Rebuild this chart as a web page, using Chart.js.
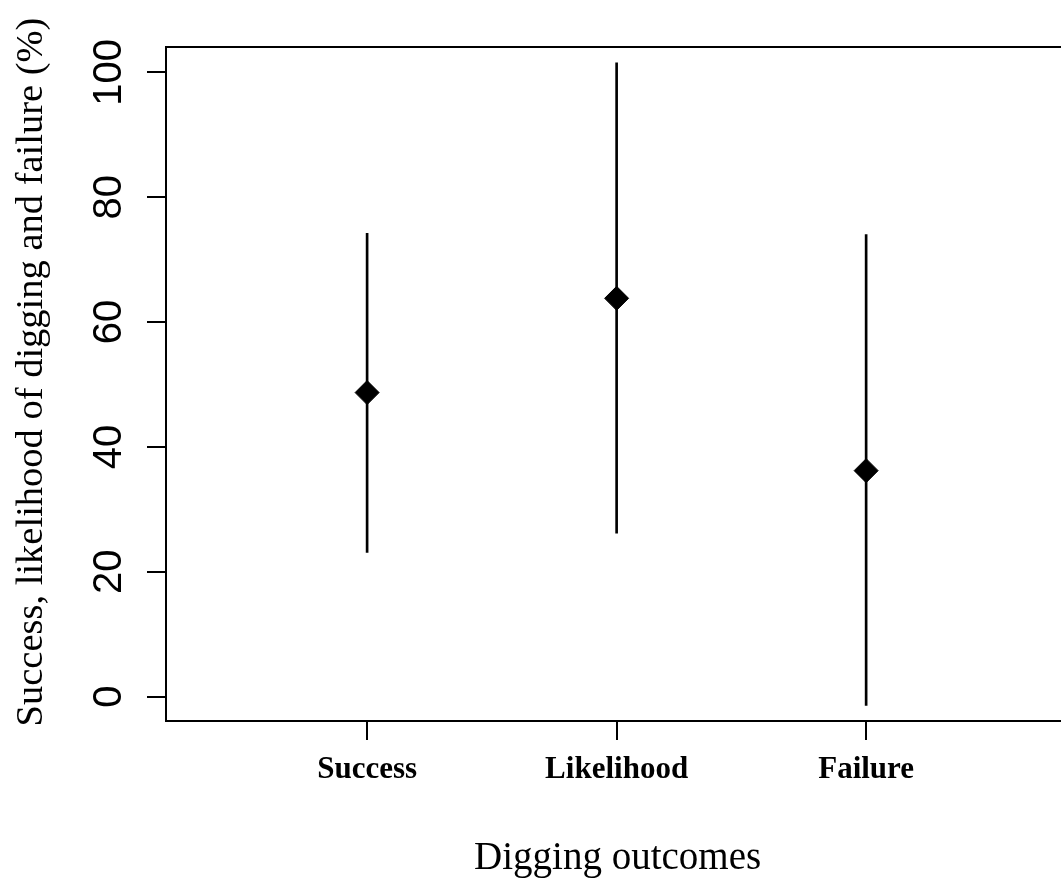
<!DOCTYPE html>
<html>
<head>
<meta charset="utf-8">
<script src="https://cdn.jsdelivr.net/npm/chart.js@4"></script>
<style>
  html, body { margin: 0; padding: 0; background: #fff; overflow: hidden; width: 1061px; height: 884px; }
  #wrap { width: 1075px; height: 884px; }
</style>
</head>
<body>
<div id="wrap"><canvas id="c" width="1075" height="884"></canvas></div>
<script>
// ---- data ----
const categories = ["Success", "Likelihood", "Failure"];
const meanValues = [48.7, 63.8, 36.2];
const lowerValues = [23.1, 26.2, -1.4];
const upperValues = [74.2, 101.5, 74.0];
const yTickValues = [0, 20, 40, 60, 80, 100];
const xTitle = "Digging outcomes";
const yTitle = "Success, likelihood of digging and failure (%)";

const catPos = categories.map((_, i) => i + 1);

const axesPlugin = {
  id: 'rAxes',
  afterDraw(chart) {
    const ctx = chart.ctx;
    const a = chart.chartArea;
    const xs = chart.scales.x, ys = chart.scales.y;
    ctx.save();
    ctx.strokeStyle = '#000';
    ctx.fillStyle = '#000';
    ctx.lineWidth = 2;
    // box
    ctx.strokeRect(a.left, a.top, a.right - a.left + 20, a.bottom - a.top);
    // y ticks
    ctx.beginPath();
    yTickValues.forEach(v => {
      const py = Math.round(ys.getPixelForValue(v));
      ctx.moveTo(a.left - 19, py);
      ctx.lineTo(a.left, py);
    });
    // x ticks
    catPos.forEach(p => {
      const px = Math.round(xs.getPixelForValue(p));
      ctx.moveTo(px, a.bottom);
      ctx.lineTo(px, a.bottom + 19);
    });
    ctx.stroke();
    // y tick labels (rotated)
    ctx.font = '40px "Liberation Sans", Arial, sans-serif';
    ctx.textAlign = 'center';
    ctx.textBaseline = 'alphabetic';
    yTickValues.forEach(v => {
      const py = ys.getPixelForValue(v);
      ctx.save();
      ctx.translate(121, py);
      ctx.rotate(-Math.PI / 2);
      ctx.fillText(String(v), 0, 0);
      ctx.restore();
    });
    // x tick labels
    ctx.font = 'bold 31px "Liberation Serif", "Times New Roman", serif';
    categories.forEach((c, i) => {
      const px = xs.getPixelForValue(catPos[i]);
      ctx.fillText(c, px, 778);
    });
    // axis titles
    ctx.font = '39px "Liberation Serif", "Times New Roman", serif';
    ctx.fillText(xTitle, xs.getPixelForValue(2) + 1, 869);
    ctx.font = '38.5px "Liberation Serif", "Times New Roman", serif';
    ctx.save();
    ctx.translate(42, 372);
    ctx.rotate(-Math.PI / 2);
    ctx.fillText(yTitle, 0, 0);
    ctx.restore();
    ctx.restore();
  }
};

new Chart(document.getElementById('c'), {
  data: {
    datasets: [
      {
        type: 'bar',
        label: 'range',
        data: catPos.map((p, i) => ({ x: p, y: [lowerValues[i], upperValues[i]] })),
        backgroundColor: '#000',
        borderWidth: 0,
        barThickness: 2,
        order: 2
      },
      {
        type: 'scatter',
        label: 'mean',
        data: catPos.map((p, i) => ({ x: p, y: meanValues[i] })),
        pointStyle: 'rectRot',
        pointRadius: 12,
        pointHoverRadius: 12,
        backgroundColor: '#000',
        borderColor: '#000',
        borderWidth: 1,
        order: 1
      }
    ]
  },
  options: {
    responsive: false,
    animation: false,
    devicePixelRatio: 1,
    layout: { padding: { left: 166, top: 47, right: 6, bottom: 163 } },
    plugins: { legend: { display: false }, tooltip: { enabled: false } },
    scales: {
      x: { type: 'linear', display: false, min: 0.194, max: 3.785, offset: false },
      y: { type: 'linear', display: false, min: -3.9, max: 104.05 }
    }
  },
  plugins: [axesPlugin]
});
</script>
</body>
</html>
